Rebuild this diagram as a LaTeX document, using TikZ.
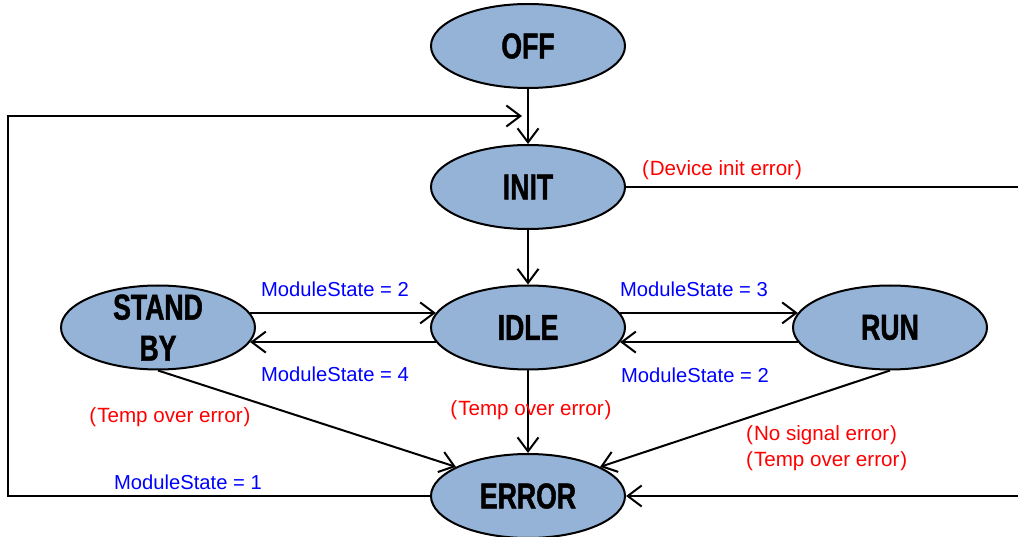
\documentclass[tikz,border=0pt]{standalone}
\usepackage{fontspec}
\setmainfont{Liberation Sans}
\newfontfamily\statefont{Liberation Sans}[FakeStretch=0.74,FakeBold=1.2]
\usetikzlibrary{arrows.meta,shapes.geometric}
\definecolor{stfill}{RGB}{149,179,215}
\newcommand\lp{(\kern1pt}
\newcommand\rp{\kern1pt)}
\begin{document}
\begin{tikzpicture}[x=1pt,y=-1pt,
  state/.style={ellipse,draw=black,line width=2pt,fill=stfill,minimum width=194pt,minimum height=84pt,inner sep=0pt},
  stext/.style={font=\statefont\bfseries\fontsize{36}{41}\selectfont,align=center,inner sep=0pt},
  conn/.style={line width=2pt,-{Straight Barb[length=14pt,width=21pt]}},
  plainline/.style={line width=2pt},
  blab/.style={text=blue,font=\fontsize{20.2}{24}\selectfont,inner sep=0pt},
  rlab/.style={text=red,font=\fontsize{20.6}{24}\selectfont,inner sep=0pt}
]
\useasboundingbox (0,0) rectangle (1018,537);
% states
\node[state] (off) at (528,46) {};
\node[state] (init) at (528,187) {};
\node[state] (idle) at (528,327.5) {};
\node[state] (error) at (528,496) {};
\node[state] (standby) at (158,327.5) {};
\node[state] (run) at (890,327.5) {};
\node[stext] (toff) at (off) {OFF};
\node[stext] (tinit) at (init) {INIT};
\node[stext] (tidle) at (idle) {IDLE};
\node[stext] (terror) at (error) {ERROR};
\node[stext] (tstandby) at (standby) {STAND\\BY};
\node[stext] (trun) at (run) {RUN};
% free ends
\coordinate (lb) at (8,496);
\coordinate (lt) at (8,116);
\coordinate (le) at (522,116);
\coordinate (ir) at (1018,187);
\coordinate (er) at (1018,496);
% connectors
\draw[conn] (off) -- (init);
\draw[conn] (init) -- (idle);
\draw[conn] (idle) -- (error);
\draw[conn] (error.west) -- (lb) -- (lt) -- (le);
\draw[plainline] (init.east) -- (ir);
\draw[conn] (er) -- (error.east);
\draw[conn] (standby.9) -- (idle.171);
\draw[conn] (idle.189) -- (standby.351);
\draw[conn] (idle.9) -- (run.171);
\draw[conn] (run.189) -- (idle.351);
\draw[conn] (standby.south) -- (error.158);
\draw[conn] (run.south) -- (error.22);
% labels
\node[blab] (l1) at (335,289) {ModuleState = 2};
\node[blab] (l2) at (335,374) {ModuleState = 4};
\node[blab] (l3) at (694,289) {ModuleState = 3};
\node[blab] (l4) at (695,375) {ModuleState = 2};
\node[blab] (l5) at (188,482) {ModuleState = 1};
\node[rlab] (r1) at (722,170) {\lp Device init error\rp};
\node[rlab] (r2) at (170,417) {\lp Temp over error\rp};
\node[rlab] (r3) at (531,410) {\lp Temp over error\rp};
\node[rlab,anchor=west] (r4) at (746,435) {\lp No signal error\rp};
\node[rlab,anchor=west] (r5) at (746,461) {\lp Temp over error\rp};
\end{tikzpicture}
\end{document}
